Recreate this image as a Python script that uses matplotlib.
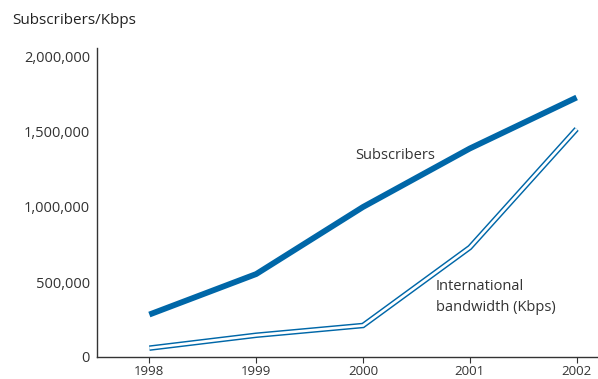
import matplotlib.pyplot as plt
from matplotlib.ticker import FuncFormatter

plt.rcParams['font.family'] = ['Open Sans', 'DejaVu Sans']

years = [1998, 1999, 2000, 2001, 2002]
subscribers = [283000, 553000, 1000000, 1390000, 1730000]
bandwidth = [59000, 145000, 210000, 730000, 1520000]

blue = '#0067a8'
grey = '#333333'

fig = plt.figure(figsize=(5.98, 3.79), dpi=100)
ax = fig.add_axes([97 / 598, 22 / 379, 501 / 598, 309 / 379])

# thick line for subscribers
ax.plot(years, subscribers, color=blue, lw=4.2, solid_capstyle='butt')
# outlined (hollow) line for bandwidth
ax.plot(years, bandwidth, color=blue, lw=4.0, solid_capstyle='butt', solid_joinstyle='miter')
ax.plot(years, bandwidth, color='white', lw=1.9, solid_capstyle='butt', solid_joinstyle='miter')

ax.set_xlim(1997.51, 2002.2)
ax.set_ylim(0, 2060000)
ax.set_xticks(years)
ax.set_yticks([0, 500000, 1000000, 1500000, 2000000])
ax.yaxis.set_major_formatter(FuncFormatter(lambda v, p: f'{int(v):,}'))

for s in ['top', 'right']:
    ax.spines[s].set_visible(False)
for s in ['left', 'bottom']:
    ax.spines[s].set_color(grey)
    ax.spines[s].set_linewidth(1.0)

ax.tick_params(axis='y', length=0, pad=5, labelsize=10.5, labelcolor=grey)
ax.tick_params(axis='x', length=4, width=0.8, color=grey, pad=1.5, labelsize=9.5, labelcolor=grey)

ax.text(1999.93, 1340000, 'Subscribers', fontsize=10.5, color=grey, ha='left', va='center')
ax.text(2000.68, 400000, 'International\nbandwidth (Kbps)', fontsize=10.5, color=grey,
        ha='left', va='center', linespacing=1.6)

fig.text(12 / 598, 1 - 20 / 379, 'Subscribers/Kbps', fontsize=11, color='#222222',
         ha='left', va='center')

fig.savefig('out.png', dpi=100)
